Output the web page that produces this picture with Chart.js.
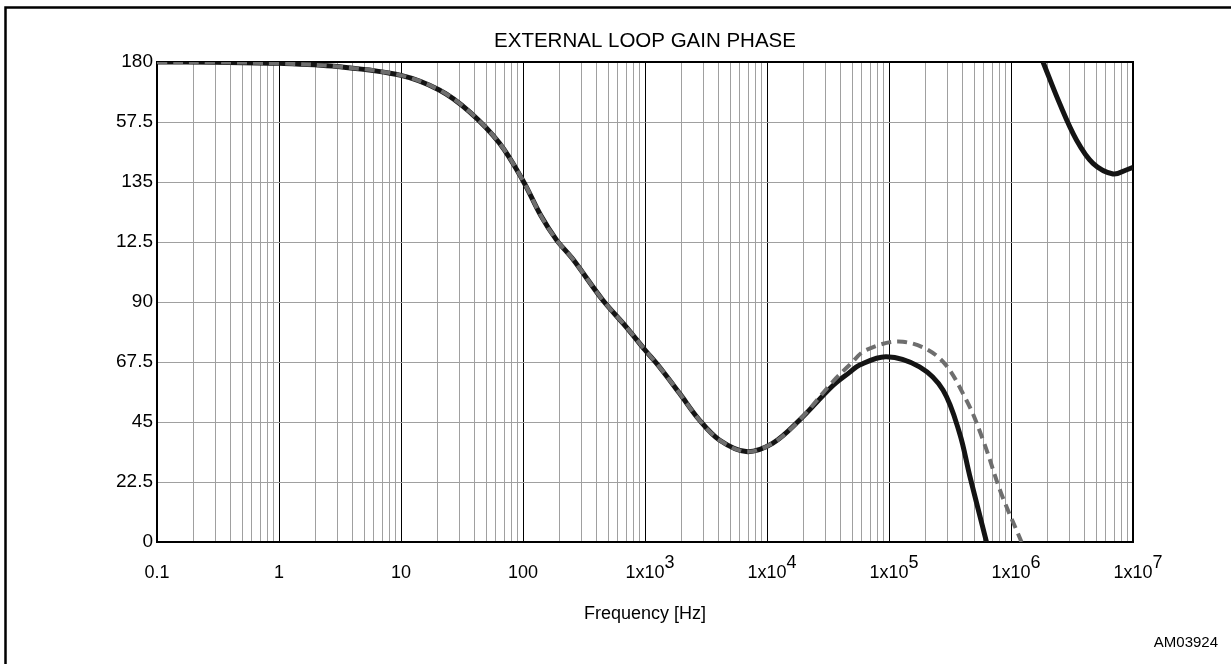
<!DOCTYPE html>
<html>
<head>
<meta charset="utf-8">
<script src="https://cdn.jsdelivr.net/npm/chart.js@4/dist/chart.umd.min.js"></script>
<style>
    html, body { margin: 0; padding: 0; background: #fff; }
    canvas { display: block; }
</style>
</head>
<body>
<canvas id="phaseChart" width="1231" height="664"></canvas>
<script>
// ---- data ----
const solidFreq  = [0.1, 0.3, 1, 3, 10, 20.6, 36.3, 64, 100, 140, 188, 255, 450, 700, 1000, 1310, 1920, 2790, 4070, 6750, 11100, 18500, 34400, 47500, 57400, 95000, 178000, 277000, 379000, 458000, 630000];
const solidPhase = [180, 179.9, 179.5, 178.3, 175, 169.5, 161.4, 149.6, 135.5, 122.4, 113.3, 106.2, 90.75, 80.7, 72, 65.7, 55.75, 45.75, 38.25, 33.9, 37, 45.75, 58.5, 63.6, 66.4, 69.5, 65.7, 57, 40.8, 25, 0];

// after the phase wraps round
const wrapFreq  = [1830000, 2500000, 3440000, 4700000, 6870000, 8800000, 10000000];
const wrapPhase = [180, 164.5, 150.75, 142, 138, 139.5, 140.5];

const dashFreq  = [0.1, 0.3, 1, 3, 10, 20.6, 36.3, 64, 100, 140, 188, 255, 450, 700, 1000, 1310, 1920, 2790, 4070, 6750, 11100, 18500, 34400, 47500, 65000, 130000, 260000, 430000, 590000, 830000, 1220000];
const dashPhase = [180, 179.9, 179.5, 178.3, 175, 169.5, 161.4, 149.6, 135.5, 122.4, 113.3, 106.2, 90.75, 80.7, 72, 65.7, 55.75, 45.75, 38.25, 33.9, 37, 45.75, 60, 66.4, 72, 75.1, 68.9, 53.25, 38.25, 18.3, 0];

const yTickValues = [0, 22.5, 45, 67.5, 90, 112.5, 135, 157.5, 180];
const yTickLabels = ["0", "22.5", "45", "67.5", "90", "12.5", "135", "57.5", "180"];

const xTickValues = [0.1, 1, 10, 100, 1e3, 1e4, 1e5, 1e6, 1e7];
const xTickBase   = ["0.1", "1", "10", "100", "1x10", "1x10", "1x10", "1x10", "1x10"];
const xTickExp    = ["", "", "", "", "3", "4", "5", "6", "7"];

const FONT = "'Liberation Sans', Arial, sans-serif";

function toPoints(xs, ys) { return xs.map((x, i) => ({ x: x, y: ys[i] })); }
function isDecade(v) { const l = Math.log10(v); return Math.abs(l - Math.round(l)) < 1e-9; }

// gridlines at 1..9 x each decade
const xGrid = [];
for (let e = -1; e < 7; e++) {
    for (let m = 1; m < 10; m++) xGrid.push(Number((m * Math.pow(10, e)).toPrecision(3)));
}
xGrid.push(1e7);

/* ================= TEXT + FRAME ================= */
const decorPlugin = {
    id: "decor",
    beforeDraw(chart) {
        const ctx = chart.ctx;
        ctx.save();
        ctx.fillStyle = "#fff";
        ctx.fillRect(0, 0, chart.width, chart.height);
        ctx.strokeStyle = "#000";
        ctx.lineWidth = 2.5;
        ctx.strokeRect(5.5, 7.5, 1240, 700);
        ctx.restore();
    },
    beforeDatasetsDraw(chart) {
        const a = chart.chartArea;
        const ctx = chart.ctx;
        ctx.save();
        ctx.strokeStyle = "#000";
        ctx.lineWidth = 2;
        ctx.strokeRect(a.left, a.top, a.right - a.left, a.bottom - a.top);
        ctx.restore();
    },
    afterDraw(chart) {
        const ctx = chart.ctx;
        const a = chart.chartArea;
        const xs = chart.scales.x;
        const mid = (a.left + a.right) / 2;
        ctx.save();
        ctx.fillStyle = "#000";
        ctx.textBaseline = "alphabetic";

        ctx.font = "20.5px " + FONT;
        ctx.textAlign = "center";
        ctx.fillText("EXTERNAL LOOP GAIN PHASE", mid, 47);

        ctx.font = "18px " + FONT;
        xTickValues.forEach((v, i) => {
            const px = xs.getPixelForValue(v);
            ctx.textAlign = "center";
            ctx.fillText(xTickBase[i], px, 578);
            if (xTickExp[i]) {
                const w = ctx.measureText(xTickBase[i]).width;
                ctx.textAlign = "left";
                ctx.fillText(xTickExp[i], px + w / 2, 568);
            }
        });

        ctx.textAlign = "center";
        ctx.fillText("Frequency [Hz]", mid, 619);

        ctx.font = "15px " + FONT;
        ctx.textAlign = "right";
        ctx.fillText("AM03924", 1218, 647);
        ctx.restore();
    }
};

const lineBase = { pointRadius: 0, tension: 0.35, fill: false };

new Chart(document.getElementById("phaseChart"), {
    type: "line",
    data: {
        datasets: [
            Object.assign({
                label: "dashed",
                data: toPoints(dashFreq, dashPhase),
                borderColor: "#6e6e6e",
                borderWidth: 4,
                borderDash: [10, 6]
            }, lineBase),
            Object.assign({
                label: "solid",
                data: toPoints(solidFreq, solidPhase),
                borderColor: "#141414",
                borderWidth: 5
            }, lineBase),
            Object.assign({
                label: "solid wrap",
                data: toPoints(wrapFreq, wrapPhase),
                borderColor: "#141414",
                borderWidth: 5
            }, lineBase)
        ]
    },
    options: {
        responsive: false,
        animation: false,
        events: [],
        layout: { padding: { top: 62, right: 98, left: 0, bottom: 0 } },
        plugins: { legend: { display: false }, tooltip: { enabled: false } },
        scales: {
            x: {
                type: "logarithmic",
                min: 0.1,
                max: 1e7,
                afterBuildTicks: s => { s.ticks = xGrid.map(v => ({ value: v })); },
                afterFit: s => { s.height = 122; },
                ticks: { display: false },
                grid: {
                    drawTicks: false,
                    lineWidth: 1,
                    color: c => isDecade(c.tick.value) ? "#000" : "#a0a0a0"
                },
                border: { color: "#000", width: 2 }
            },
            y: {
                min: 0,
                max: 180,
                afterBuildTicks: s => { s.ticks = yTickValues.map(v => ({ value: v })); },
                afterFit: s => { s.width = 157; },
                ticks: {
                    autoSkip: false,
                    padding: 4,
                    color: "#000",
                    font: { family: FONT, size: 19 },
                    callback: v => yTickLabels[yTickValues.indexOf(v)]
                },
                grid: { drawTicks: false, color: "#a0a0a0", lineWidth: 1 },
                border: { color: "#000", width: 2 }
            }
        }
    },
    plugins: [decorPlugin]
});
</script>
</body>
</html>
